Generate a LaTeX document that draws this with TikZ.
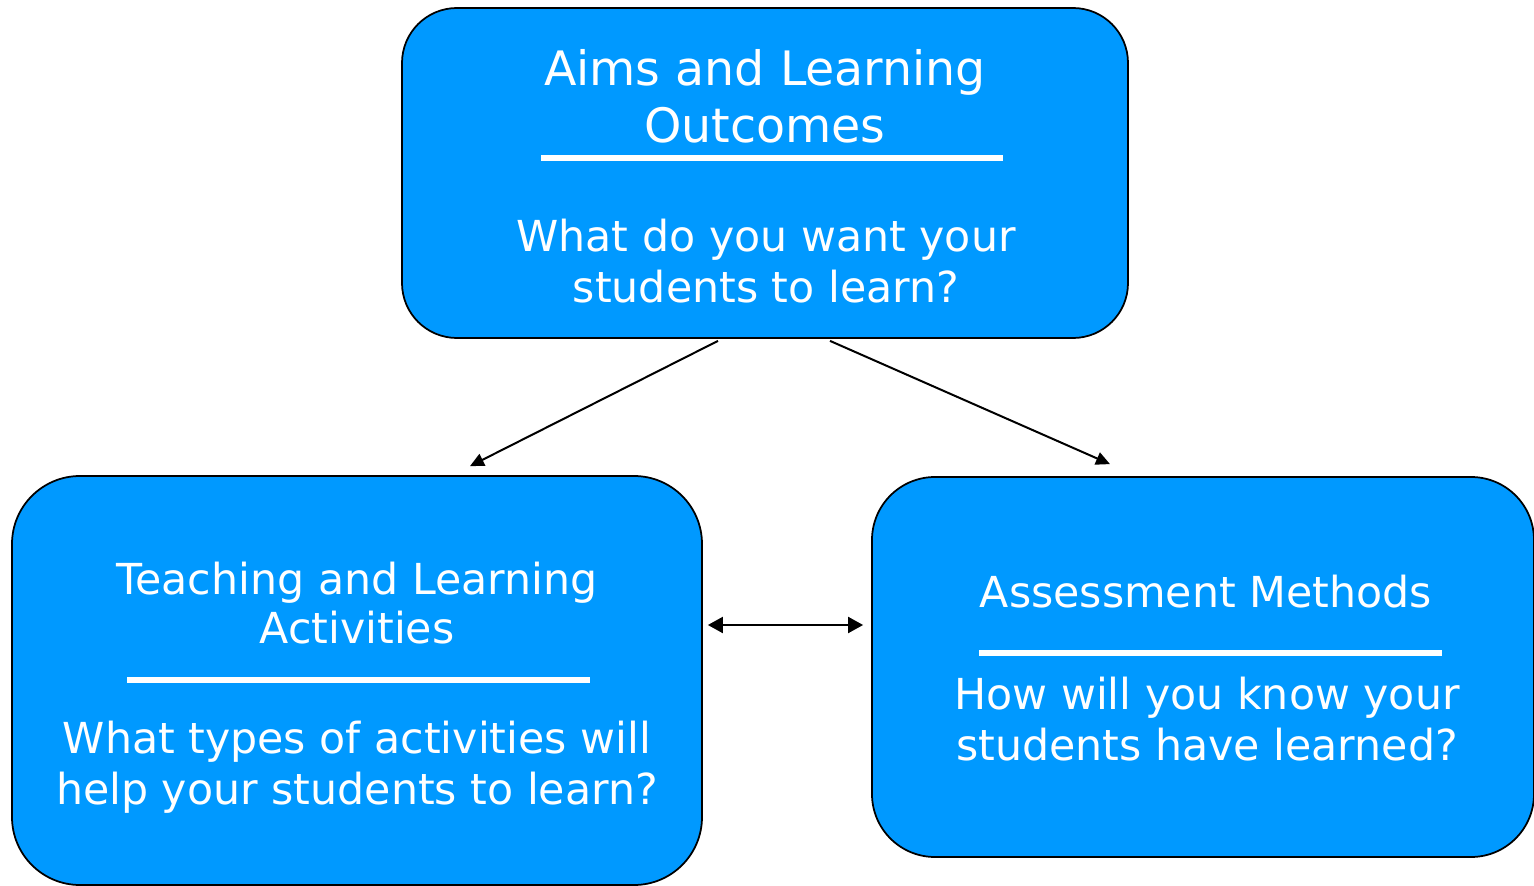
\documentclass[tikz,border=0pt]{standalone}
\usepackage{fontspec}
\setmainfont{DejaVu Sans}
\usetikzlibrary{arrows.meta,calc}
\definecolor{boxblue}{RGB}{0,153,255}
\tikzset{
  box/.style={draw=black,fill=boxblue,line width=0.35mm,inner sep=0pt},
  head/.style={text=white,align=center,inner sep=0pt,font=\fontsize{27}{32.3}\selectfont},
  body/.style={text=white,align=center,inner sep=0pt,font=\fontsize{24.3}{28.9}\selectfont},
  rule/.style={white,line width=1.2mm},
  link/.style={line width=0.4mm,-{Triangle[length=2.8mm,width=2.6mm]}},
}
\begin{document}
\begin{tikzpicture}[x=0.2mm,y=-0.2mm]
	\useasboundingbox (0,0) rectangle (1534,886);
	% the three boxes
	\node[box,rounded corners=11mm,minimum width=145.2mm,minimum height=66mm] (aims) at (765,173) {};
	\node[box,rounded corners=13.6mm,minimum width=138mm,minimum height=81.8mm] (teach) at (357,680.5) {};
	\node[box,rounded corners=12.6mm,minimum width=132.4mm,minimum height=76mm] (assess) at (1203,667) {};
	% texts and white rules
	\node[head] (aimstitle) at (765,96) {Aims and Learning\\Outcomes};
	\draw[rule] (541,158)--(1003,158);
	\node[body] (aimsq) at (766,261) {What do you want your\\students to learn?};
	\node[body,font=\fontsize{24.3}{28.3}\selectfont] (teachtitle) at (357,603) {Teaching and Learning\\Activities};
	\draw[rule] (127,680)--(590,680);
	\node[body] (teachq) at (357,767) {What types of activities will\\help your students to learn?};
	\node[body] (assesstitle) at (1206,592) {Assessment Methods};
	\draw[rule] (979,653)--(1442,653);
	\node[body] (assessq) at (1207,719) {How will you know your\\students have learned?};
	% arrows
	\draw[link] ($(aims.south)+(-47,2)$)--($(teach.north)+(113,-9)$);
	\draw[link] ($(aims.south)+(65,2)$)--($(assess.north)+(-93,-12)$);
	\draw[link,{Triangle[length=3mm,width=3.2mm]}-{Triangle[length=3mm,width=3.2mm]}] ($(teach.east)+(5,-55.5)$)--($(assess.west)+(-8,-42)$);
\end{tikzpicture}
\end{document}
